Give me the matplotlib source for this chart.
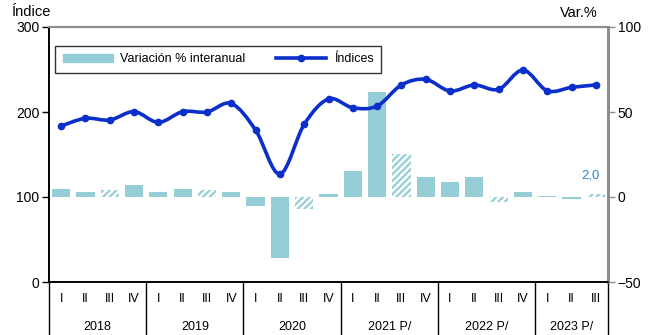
import numpy as np
import matplotlib
matplotlib.use("Agg")
import matplotlib.pyplot as plt
from matplotlib.path import Path
import matplotlib.patches as mpatches
from matplotlib.lines import Line2D
import matplotlib.transforms as mtrans

plt.rcParams['font.family'] = ['Liberation Sans', 'DejaVu Sans']
plt.rcParams['hatch.linewidth'] = 1.6

quarters = ['I', 'II', 'III', 'IV'] * 5 + ['I', 'II', 'III']
years = ['2018', '2019', '2020', '2021 P/', '2022 P/', '2023 P/']
year_len = [4, 4, 4, 4, 4, 3]

indices = [183.5, 192.6, 190.6, 200.4,
           187.8, 200.4, 200.0, 210.0,
           178.8, 127.0, 185.5, 215.3,
           205.0, 207.0, 231.8, 238.4,
           224.7, 231.8, 226.7, 249.4,
           225.0, 229.0, 231.8]
variacion = [4.5, 3.2, 4.1, 6.9,
             3.2, 4.5, 4.1, 3.2,
             -5.3, -35.7, -6.8, 2.0,
             15.3, 61.6, 25.1, 11.8,
             9.0, 11.8, -2.7, 3.2,
             0.6, -1.2, 2.0]

bar_col = '#96CED8'
line_col = '#0A2FCB'
grey = '#8C8C8C'

x = np.arange(len(indices))

fig = plt.figure(figsize=(6.52, 3.35), dpi=100)
ax = fig.add_axes([49 / 652, 1 - 282 / 335, 559 / 652, 255 / 335])
ax2 = ax.twinx()
ax.set_zorder(ax2.get_zorder() + 1)
ax.patch.set_visible(False)

# bars (right axis), third quarter hatched
for i, v in enumerate(variacion):
    if quarters[i] == 'III':
        ax2.bar(x[i], v, width=0.75, color='white', edgecolor=bar_col,
                hatch='/////', linewidth=0)
    else:
        ax2.bar(x[i], v, width=0.75, color=bar_col, linewidth=0)
ax2.set_ylim(-50, 100)
ax2.set_yticks([-50, 0, 50, 100])
ax2.text(x[-1] - 0.2, variacion[-1] + 7, '2,0', color='#2A86C8',
         fontsize=9.5, ha='center', va='bottom')


# smooth line (Excel-like) through index points
def smooth_path(xs, ys, t=0.5):
    verts = [(xs[0], ys[0])]
    codes = [Path.MOVETO]
    n = len(xs)
    for i in range(n - 1):
        x0, y0 = (xs[i - 1], ys[i - 1]) if i > 0 else (xs[i], ys[i])
        x1, y1 = xs[i], ys[i]
        x2, y2 = xs[i + 1], ys[i + 1]
        x3, y3 = (xs[i + 2], ys[i + 2]) if i + 2 < n else (xs[i + 1], ys[i + 1])
        c1 = (x1 + (x2 - x0) * t / 3, y1 + (y2 - y0) * t / 3)
        c2 = (x2 - (x3 - x1) * t / 3, y2 - (y3 - y1) * t / 3)
        verts += [c1, c2, (x2, y2)]
        codes += [Path.CURVE4] * 3
    return Path(verts, codes)


ax.add_patch(mpatches.PathPatch(smooth_path(x, indices, 0.5), fill=False,
                                edgecolor=line_col, linewidth=2.6,
                                capstyle='round', joinstyle='round'))
ax.plot(x, indices, 'o', color=line_col, markersize=4.5)
ax.set_ylim(0, 300)
ax.set_yticks([0, 100, 200, 300])
ax.set_xlim(-0.5, len(x) - 0.5)

# spines
for a in (ax, ax2):
    a.spines['top'].set_color(grey)
    a.spines['top'].set_linewidth(1.5)
    a.spines['right'].set_color(grey)
    a.spines['right'].set_linewidth(2)
    a.spines['left'].set_color('black')
    a.spines['left'].set_linewidth(1.2)
    a.spines['bottom'].set_color('black')
    a.spines['bottom'].set_linewidth(1.2)
ax.tick_params(axis='y', labelsize=10, length=5, width=1, color='black', pad=2)
ax2.tick_params(axis='y', labelsize=10, length=5, width=1, color=grey, pad=2)

ax.set_xticks(x)
ax.set_xticklabels(quarters, fontsize=9)
ax.tick_params(axis='x', length=0, pad=8)

# year labels and separators
trans = mtrans.blended_transform_factory(ax.transData, ax.transAxes)
start = -0.5
bounds = [start]
for y_lab, n in zip(years, year_len):
    ax.text(start + n / 2, -0.175, y_lab, transform=trans, ha='center',
            va='center', fontsize=9)
    start += n
    bounds.append(start)
for b in bounds:
    ax.add_line(Line2D([b, b], [0, -0.21], transform=trans, color='black',
                       linewidth=1, clip_on=False))

fig.text(12 / 652, 1 - 12 / 335, 'Índice', fontsize=10.5, ha='left', va='center')
fig.text(598 / 652, 1 - 13 / 335, 'Var.%', fontsize=10.5, ha='right', va='center')

handles = [mpatches.Patch(color=bar_col),
           Line2D([0], [0], color=line_col, linewidth=2.6, marker='o',
                  markersize=4.5)]
leg = ax.legend(handles, ['Variación % interanual', 'Índices'], ncol=2,
                loc='lower left', bbox_to_anchor=(0.011, 0.82, 0.583, 0.113),
                mode='expand', fontsize=9, frameon=True, fancybox=False,
                edgecolor='black', handlelength=4, borderaxespad=0,
                borderpad=0.6, handletextpad=0.6)
leg.get_frame().set_linewidth(1)
leg._legend_box.align = 'center'
leg.get_texts()[0].set_x(0)

fig.savefig('out.png', dpi=100)
